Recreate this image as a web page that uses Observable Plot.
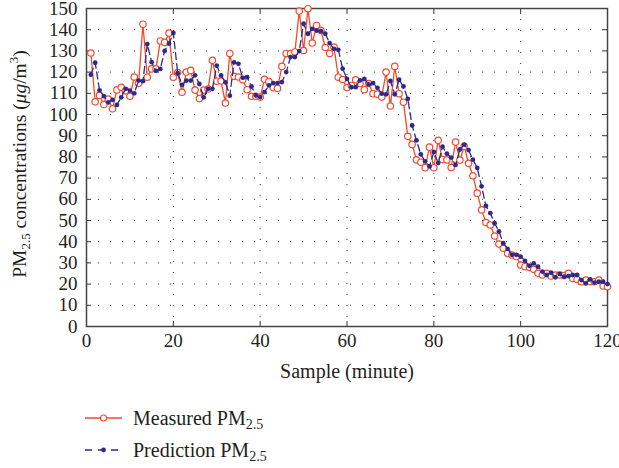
<!DOCTYPE html>
<html>
<head>
<meta charset="utf-8">
<script src="https://cdn.jsdelivr.net/npm/d3@7"></script>
<script src="https://cdn.jsdelivr.net/npm/@observablehq/plot@0.6"></script>
<style>
  html, body { margin: 0; padding: 0; background: #fff; }
  #wrap { width: 619px; height: 468px; position: relative; font-family: "Liberation Serif", "DejaVu Serif", serif; color: #231f20; }
  #legend { padding-top: 7px; }
  .row { height: 32px; display: flex; align-items: center; font-size: 20px; }
  .row svg { margin-left: 84px; margin-right: 9px; }
  sub { font-size: 14px; vertical-align: -4px; line-height: 0; }
</style>
</head>
<body>
<div id="wrap">
  <div id="chart"></div>
  <div id="legend"></div>
</div>
<script>
const samples = d3.range(1, 121);
const measured = [129,106,109,104.7,107.3,102.7,111.6,112.8,111.2,108.6,
117.7,114.7,142.6,117.6,121.5,121.5,134.7,134,138.4,117.6,
119.8,110.5,120,120.8,111.5,107.5,111.5,112,125.6,115.7,
115.8,105.4,128.8,118,117.7,116.4,111.7,108.6,108.6,108.2,
116.6,115.5,112.7,112.3,122.7,128.8,128.8,129.5,148.8,130.2,
149.9,133.7,142,139.6,131.6,128.8,131.8,117.6,116.5,112.7,
113.7,116.4,114.6,111.7,114.6,109.8,109.6,108.2,120,104,
122.7,109.8,105.8,89.7,85.9,78.6,77.5,74.9,84.6,74.9,
87.8,78.8,78.6,75,87,78.5,85,77,71.1,62.9,
55,49,47.9,42.7,38.9,36.9,34.5,33.7,33,29,
28.2,27.9,27,25.1,24.3,25.1,23.8,24.3,24.3,24,
25.1,22.7,22.2,21.1,21.9,21.1,21.1,21.9,19.1,18.8];
const prediction = [118.8,124.4,111.4,108.7,105.7,106.9,104.5,108.1,112.1,111.3,
110,116,115.7,133.2,124.7,120.6,121.5,130,133.5,138.5,
119.5,114,116,116,118.5,114.4,108.1,112.1,112.1,123.1,
118.4,115.2,108.9,124.6,123.9,117.3,117.6,113.2,109,108.2,
110.6,113.7,114.8,114.8,115.3,120,127.1,127.1,129.9,142.8,
138.1,140.4,139.6,139.3,138.1,133.7,131,130.5,121.6,116.8,
112.9,112.9,116.1,116.8,114.2,114.8,112.6,109.8,109.5,115.8,
109.5,116.4,113.2,107.4,94.8,87.8,81.2,77.9,75.5,82.3,
77.1,84.8,81.5,79.7,76.2,83.5,85.8,83.2,78.7,74.8,
66.1,56.9,53.5,48.7,44.8,39.3,36.6,33.8,33.8,33,
31,28.6,29.8,28.2,25.9,24.3,25.4,23.2,24.8,23.5,
23.8,24.3,24.3,21.9,20.3,22.2,20.7,21.1,21.1,20];
const xTicks = [0,20,40,60,80,100,120];
const yTicks = d3.range(0, 151, 10);
const xLabel = "Sample (minute)";
const seriesNames = ["Measured", "Prediction"];

const red = "#f04b2c";
const blue = "#2d2a8c";

const mData = samples.map((s, i) => ({x: s, y: measured[i]}));
const pData = samples.map((s, i) => ({x: s, y: prediction[i]}));

const chart = Plot.plot({
  width: 619, height: 395,
  marginLeft: 86, marginRight: 12, marginTop: 8, marginBottom: 69,
  x: {domain: [0, 120]},
  y: {domain: [0, 150]},
  style: {fontFamily: "'Liberation Serif', 'DejaVu Serif', serif", fontSize: "19px", color: "#231f20", background: "#fff"},
  marks: [
    Plot.gridX(xTicks, {stroke: "#333", strokeOpacity: 1, strokeDasharray: "1,10"}),
    Plot.gridY(yTicks, {stroke: "#333", strokeOpacity: 1, strokeDasharray: "1,11"}),
    Plot.axisX(xTicks, {anchor: "bottom", tickSize: -5, tickPadding: 12, label: null, stroke: "#333"}),
    Plot.axisX(xTicks, {anchor: "top", tickSize: -5, tickFormat: () => "", label: null, stroke: "#333"}),
    Plot.axisY(yTicks, {anchor: "left", tickSize: -5, tickPadding: 14, label: null, stroke: "#333"}),
    Plot.axisY(yTicks, {anchor: "right", tickSize: -5, tickFormat: () => "", label: null, stroke: "#333"}),
    Plot.frame({stroke: "#444", strokeWidth: 1.5}),
    Plot.line(mData, {x: "x", y: "y", stroke: red, strokeWidth: 1.3}),
    Plot.dot(mData, {x: "x", y: "y", r: 3.2, stroke: red, strokeWidth: 1.2, fill: "#fff"}),
    Plot.line(pData, {x: "x", y: "y", stroke: blue, strokeWidth: 1.3, strokeDasharray: "7,4"}),
    Plot.dot(pData, {x: "x", y: "y", r: 2.4, fill: blue, stroke: "none"}),
    Plot.text([xLabel], {frameAnchor: "bottom", dy: 51, fontSize: 20, fill: "#231f20"})
  ]
});
document.getElementById("chart").appendChild(chart);

// Y-axis title with sub/superscripts
const svg = d3.select(chart);
const yt = svg.append("text")
  .attr("transform", "translate(22,164) rotate(-90)")
  .attr("text-anchor", "middle")
  .attr("dominant-baseline", "middle")
  .attr("font-size", 19.5)
  .attr("fill", "#231f20")
  .attr("font-family", "'Liberation Serif', 'DejaVu Serif', serif");
yt.append("tspan").text("PM");
yt.append("tspan").attr("font-size", 13).attr("dy", 5).text("2.5");
yt.append("tspan").attr("dy", -5).text(" concentrations (");
yt.append("tspan").attr("font-style", "italic").text("\u03bcg");
yt.append("tspan").text("/m");
yt.append("tspan").attr("font-size", 13).attr("dy", -7).text("3");
yt.append("tspan").attr("dy", 7).text(")");

// Legend below the chart
const legend = d3.select("#legend");
seriesNames.forEach((name, i) => {
  const row = legend.append("div").attr("class", "row");
  const s = row.append("svg").attr("width", 40).attr("height", 12);
  if (i === 0) {
    s.append("line").attr("x1", 1).attr("x2", 38).attr("y1", 6).attr("y2", 6).attr("stroke", red).attr("stroke-width", 1.3);
    s.append("circle").attr("cx", 19.5).attr("cy", 6).attr("r", 3).attr("fill", "#fff").attr("stroke", red).attr("stroke-width", 1.2);
  } else {
    s.append("line").attr("x1", 1).attr("x2", 38).attr("y1", 6).attr("y2", 6).attr("stroke", blue).attr("stroke-width", 1.3).attr("stroke-dasharray", "7,6");
    s.append("circle").attr("cx", 19.5).attr("cy", 6).attr("r", 2.4).attr("fill", blue);
  }
  const t = row.append("span");
  t.append("span").text(name + " PM");
  t.append("sub").text("2.5");
});
</script>
</body>
</html>
